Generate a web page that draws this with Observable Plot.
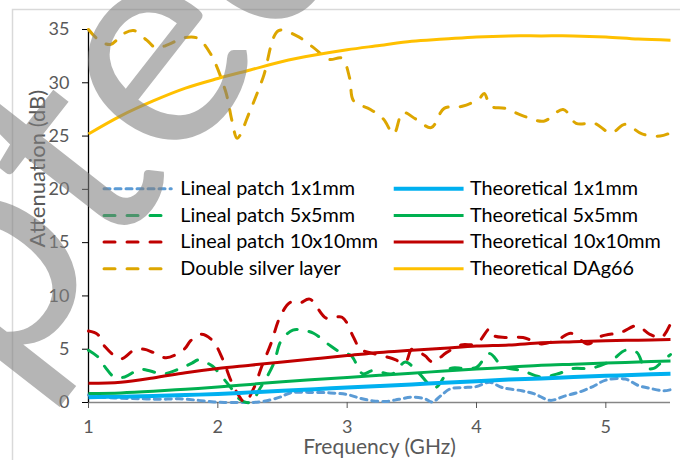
<!DOCTYPE html>
<html><head><meta charset="utf-8">
<script src="https://cdn.jsdelivr.net/npm/d3@7"></script>
<script src="https://cdn.jsdelivr.net/npm/@observablehq/plot@0.6"></script>
<style>
body{margin:0;background:#fff;}
#chart{position:relative;width:680px;height:460px;overflow:hidden;background:#fff;}
#chart svg{position:absolute;left:0;top:0;}
</style></head><body><div id="chart"></div>
<script>
// ---- data ----
const xTicks = [1, 2, 3, 4, 5];
const yTicks = [0, 5, 10, 15, 20, 25, 30, 35];

const theoFreq   = [1, 1.25, 1.5, 1.75, 2, 2.25, 2.5, 2.75, 3, 3.25, 3.5, 3.75, 4, 4.25, 4.5, 4.75, 5, 5.25, 5.5];
const theo1x1    = [0.5, 0.55, 0.6, 0.7, 0.8, 0.95, 1.1, 1.25, 1.4, 1.55, 1.7, 1.85, 2.0, 2.15, 2.25, 2.4, 2.5, 2.6, 2.7];
const theo5x5    = [0.85, 0.9, 1.05, 1.25, 1.45, 1.7, 1.95, 2.15, 2.35, 2.55, 2.75, 2.95, 3.15, 3.3, 3.5, 3.6, 3.7, 3.8, 3.9];
const theo10x10  = [1.8, 1.9, 2.3, 2.8, 3.2, 3.5, 3.8, 4.1, 4.4, 4.7, 4.9, 5.1, 5.3, 5.4, 5.6, 5.7, 5.8, 5.85, 5.9];
const theoDAg66  = [25.2, 26.9, 28.3, 29.5, 30.4, 31.2, 32.0, 32.6, 33.1, 33.5, 33.9, 34.1, 34.3, 34.4, 34.4, 34.4, 34.3, 34.1, 34.0];

const meas1x1 = [[1.00,0.7],[1.10,0.5],[1.25,0.4],[1.40,0.35],[1.55,0.3],[1.70,0.35],[1.85,0.2],[1.97,0.05],[2.05,0.0],[2.15,0.0],[2.25,0.0],[2.35,0.1],[2.48,0.5],[2.56,0.9],[2.70,0.95],[2.87,0.9],[3.00,0.75],[3.10,0.4],[3.20,0.15],[3.30,0.1],[3.40,0.3],[3.50,0.5],[3.60,0.35],[3.66,0.05],[3.72,0.6],[3.80,1.3],[3.90,1.4],[4.00,1.5],[4.10,1.9],[4.20,1.4],[4.35,1.1],[4.45,0.8],[4.57,0.2],[4.68,0.6],[4.80,1.0],[4.90,1.5],[5.00,2.1],[5.15,2.2],[5.25,1.6],[5.35,1.3],[5.45,1.1],[5.50,1.2]];
const meas5x5 = [[1.00,4.9],[1.08,4.2],[1.13,3.3],[1.20,2.4],[1.28,2.4],[1.40,3.1],[1.58,2.7],[1.71,3.2],[1.80,3.7],[1.85,4.0],[1.90,3.8],[1.96,3.4],[2.04,2.3],[2.10,1.4],[2.17,0.3],[2.25,0.0],[2.33,1.4],[2.43,3.6],[2.49,5.8],[2.58,6.8],[2.65,6.8],[2.74,6.5],[2.85,5.5],[2.95,4.7],[3.03,4.4],[3.12,2.7],[3.20,3.0],[3.35,2.7],[3.45,3.8],[3.55,2.8],[3.68,1.4],[3.80,3.2],[3.90,3.2],[4.00,3.3],[4.10,4.6],[4.20,3.4],[4.35,3.0],[4.50,2.4],[4.63,2.7],[4.75,3.2],[4.88,3.2],[5.04,3.9],[5.15,4.9],[5.24,4.7],[5.30,3.3],[5.37,3.2],[5.44,3.9],[5.50,4.5]];
const meas10x10 = [[1.00,6.7],[1.07,6.4],[1.13,5.2],[1.25,4.1],[1.35,4.9],[1.43,5.0],[1.50,4.7],[1.60,4.2],[1.74,5.0],[1.79,5.8],[1.87,6.4],[1.96,5.8],[2.04,4.0],[2.10,2.1],[2.17,0.5],[2.21,0.0],[2.28,1.4],[2.34,3.4],[2.41,5.5],[2.48,8.0],[2.56,9.4],[2.63,9.3],[2.71,9.7],[2.84,7.9],[2.96,8.0],[3.05,6.1],[3.10,5.0],[3.17,4.7],[3.33,4.2],[3.45,3.8],[3.50,5.0],[3.60,4.4],[3.66,3.8],[3.77,4.7],[3.88,5.4],[4.00,5.5],[4.10,6.9],[4.13,6.3],[4.22,6.1],[4.36,6.1],[4.50,5.5],[4.63,5.9],[4.73,6.5],[4.86,5.5],[4.96,6.2],[5.12,6.6],[5.24,7.2],[5.34,6.4],[5.43,6.1],[5.50,7.4]];
const doubleSilver = [[1.00,35.0],[1.08,34.0],[1.17,33.6],[1.27,34.6],[1.35,34.9],[1.45,34.0],[1.52,33.3],[1.62,33.6],[1.73,34.2],[1.84,34.2],[1.94,32.8],[2.06,29.2],[2.11,26.4],[2.15,24.8],[2.25,27.4],[2.35,30.5],[2.47,34.9],[2.61,34.4],[2.74,33.3],[2.86,32.2],[2.96,32.3],[3.02,30.4],[3.05,28.3],[3.18,27.5],[3.28,26.6],[3.36,25.2],[3.43,27.2],[3.53,26.6],[3.65,25.8],[3.75,27.6],[3.89,27.8],[4.02,28.5],[4.06,29.0],[4.11,27.8],[4.22,27.6],[4.36,26.9],[4.52,26.4],[4.67,27.5],[4.77,26.2],[4.91,26.2],[5.04,25.3],[5.15,26.1],[5.28,25.2],[5.42,25.0],[5.50,25.3]];

const seriesNames = ["Lineal patch 1x1mm","Lineal patch 5x5mm","Lineal patch 10x10mm","Double silver layer",
                     "Theoretical 1x1mm","Theoretical 5x5mm","Theoretical 10x10mm","Theoretical DAg66"];
const watermarkText = "Accepted";

// ---- styles ----
const toPts = (f, v) => f.map((x, i) => [x, v[i]]);
const series = [
  {name: seriesNames[0], data: meas1x1,      color: "#5B9BD5", width: 3,   dash: "6,5",   col: 0, row: 0},
  {name: seriesNames[1], data: meas5x5,      color: "#00B050", width: 3,   dash: "11,12", col: 0, row: 1},
  {name: seriesNames[2], data: meas10x10,    color: "#C00000", width: 3,   dash: "11,12", col: 0, row: 2},
  {name: seriesNames[3], data: doubleSilver, color: "#DDA600", width: 3,   dash: "11,12", col: 0, row: 3},
  {name: seriesNames[4], data: toPts(theoFreq, theo1x1),   color: "#00B0F0", width: 4, dash: null, col: 1, row: 0},
  {name: seriesNames[5], data: toPts(theoFreq, theo5x5),   color: "#00B050", width: 3, dash: null, col: 1, row: 1},
  {name: seriesNames[6], data: toPts(theoFreq, theo10x10), color: "#C00000", width: 3, dash: null, col: 1, row: 2},
  {name: seriesNames[7], data: toPts(theoFreq, theoDAg66), color: "#FFC000", width: 3, dash: null, col: 1, row: 3}
];
// legend layout (data units)
const legCols = [{x1: 1.12, x2: 1.64, tx: 1.71}, {x1: 3.36, x2: 3.90, tx: 3.95}];
const legRows = [20.05, 17.55, 15.05, 12.55];

const marks = [];
marks.push(Plot.ruleY([0], {stroke: "#868686", strokeWidth: 1.3}));
marks.push(Plot.axisX({ticks: xTicks, tickSize: 6, tickPadding: 12, stroke: "#595959", fill: "#595959", label: null, fontSize: 18, tickFormat: d3.format("d")}));
marks.push(Plot.axisY({ticks: yTicks, tickSize: 6, tickPadding: 13, stroke: "#000", fill: "#595959", label: null, fontSize: 18}));
marks.push(Plot.ruleX([1], {stroke: "#000", strokeWidth: 1.3}));
marks.push(Plot.text(["Frequency (GHz)"], {frameAnchor: "bottom", lineAnchor: "middle", x: 3.25, dy: 45, fill: "#595959", fontSize: 21}));
marks.push(Plot.text(["Attenuation (dB)"], {frameAnchor: "left", lineAnchor: "middle", y: 14.55, dx: -51, rotate: -90, fill: "#595959", fontSize: 22}));

for (const s of series) {
  const opts = {x: d => d[0], y: d => d[1], stroke: s.color, strokeWidth: s.width, curve: "catmull-rom", strokeLinecap: s.dash ? "round" : "butt"};
  if (s.dash) opts.strokeDasharray = s.dash;
  marks.push(Plot.line(s.data, opts));
}
for (const s of series) {
  const c = legCols[s.col], y = legRows[s.row];
  const o = {x1: c.x1, x2: c.x2, y1: y, y2: y, stroke: s.color, strokeWidth: s.width, strokeLinecap: s.dash ? "round" : "butt"};
  if (s.dash) o.strokeDasharray = s.dash;
  marks.push(Plot.link([s], o));
  marks.push(Plot.text([s.name], {x: c.tx, y: y, textAnchor: "start", lineAnchor: "middle", fill: "#000", fontSize: 19.8}));
}

const chart = Plot.plot({
  width: 680, height: 460,
  marginLeft: 88, marginRight: 10, marginTop: 29, marginBottom: 58,
  style: {fontFamily: "Lato, 'Open Sans', sans-serif", fontSize: "18px", background: "#fff", overflow: "visible"},
  x: {domain: [1, 5.5]},
  y: {domain: [0, 35]},
  marks
});
document.getElementById("chart").appendChild(chart);

// outer chart frame
d3.select(chart).insert("rect", ":first-child").attr("x", 12.5).attr("y", 9.5).attr("width", 720).attr("height", 520)
  .attr("fill", "none").attr("stroke", "#D9D9D9").attr("stroke-width", 1.5);

// watermark overlay
const FS = 300;
const ctx = document.createElement("canvas").getContext("2d");
ctx.font = `${FS}px Lato, sans-serif`;
const pre = ctx.measureText(watermarkText.slice(0, 6)).width;
const ew = ctx.measureText(watermarkText.slice(6, 7)).width;
const ang = -52, th = ang * Math.PI / 180, cs = Math.cos(th), sn = Math.sin(th);
const lx = pre + ew / 2, ly = -0.26 * FS;
const tx = 162 - (lx * cs - ly * sn), ty = 66 - (lx * sn + ly * cs);
const ov = d3.select("#chart").append("svg").attr("width", 680).attr("height", 460)
  .style("pointer-events", "none");
ov.append("text").text(watermarkText)
  .attr("font-family", "Lato, sans-serif").attr("font-size", FS)
  .attr("fill", "#808080").attr("fill-opacity", 0.58)
  .attr("transform", `translate(${tx.toFixed(1)},${ty.toFixed(1)}) rotate(${ang})`);
</script></body></html>
